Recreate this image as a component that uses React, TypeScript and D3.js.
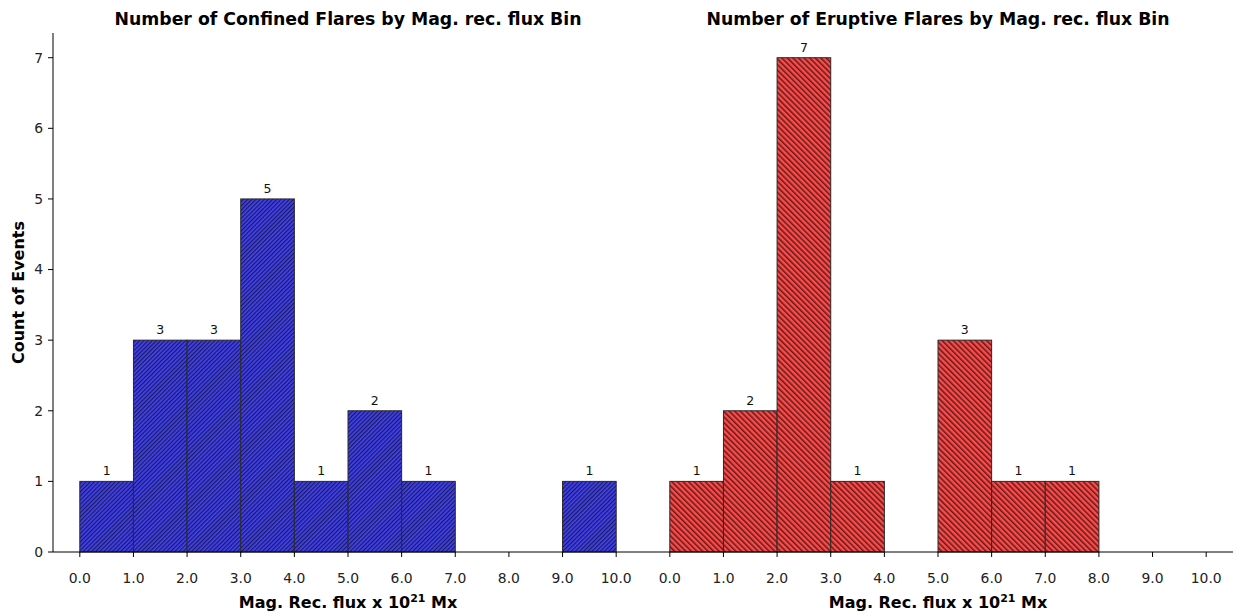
import React from "react";
import * as d3 from "d3";

// Histogram bins (lower edges, in 10^21 Mx) and event counts
const binStarts = [0, 1, 2, 3, 4, 5, 6, 7, 8, 9];
const confinedCounts = [1, 3, 3, 5, 1, 2, 1, 0, 0, 1];
const eruptiveCounts = [1, 2, 7, 1, 0, 3, 1, 1, 0, 0];
const xTicks = [0, 1, 2, 3, 4, 5, 6, 7, 8, 9, 10];
const yTicks = [0, 1, 2, 3, 4, 5, 6, 7];

const W = 1235;
const H = 613;
const FONT = "DejaVu Sans, sans-serif";

const y = d3.scaleLinear().domain([0, 7.35]).range([552, 33]);

type PanelProps = {
  x0: number;
  x1: number;
  counts: number[];
  title: string;
  fill: string;
  patternId: string;
  showY: boolean;
};

function Panel({ x0, x1, counts, title, fill, patternId, showY }: PanelProps) {
  const x = d3.scaleLinear().domain([-0.5, 10.5]).range([x0, x1]);
  const fmt = d3.format(".1f");
  const base = y(0);
  return (
    <g>
      {binStarts.map((b, i) =>
        counts[i] > 0 ? (
          <g key={b}>
            <rect x={x(b)} y={y(counts[i])} width={x(b + 1) - x(b)} height={base - y(counts[i])} fill={fill} />
            <rect
              x={x(b)}
              y={y(counts[i])}
              width={x(b + 1) - x(b)}
              height={base - y(counts[i])}
              fill={`url(#${patternId})`}
              stroke="#2a2a2a"
              strokeWidth={1}
            />
            <text
              x={(x(b) + x(b + 1)) / 2}
              y={y(counts[i]) - 6}
              textAnchor="middle"
              fontSize={12.5}
              fontFamily={FONT}
              fill="#111"
            >
              {counts[i]}
            </text>
          </g>
        ) : null
      )}
      {/* x axis */}
      <line x1={x0} x2={x1} y1={base} y2={base} stroke="#000" strokeWidth={1} />
      {xTicks.map((t) => (
        <g key={t} transform={`translate(${x(t)},${base})`}>
          <line y1={0} y2={5} stroke="#000" strokeWidth={1} />
          <text y={31} textAnchor="middle" fontSize={13.9} fontFamily={FONT} fill="#222">
            {fmt(t)}
          </text>
        </g>
      ))}
      <text
        x={(x0 + x1) / 2}
        y={608}
        textAnchor="middle"
        fontSize={16}
        fontWeight="bold"
        fontFamily={FONT}
        fill="#000"
      >
        Mag. Rec. flux x 10
        <tspan dy={-6} fontSize={11}>21</tspan>
        <tspan dy={6}> Mx</tspan>
      </text>
      <text
        x={(x0 + x1) / 2}
        y={24.5}
        textAnchor="middle"
        fontSize={17.3}
        fontWeight="bold"
        fontFamily={FONT}
        fill="#000"
      >
        {title}
      </text>
      {showY && (
        <g>
          <line x1={x0} x2={x0} y1={y(7.35)} y2={base} stroke="#000" strokeWidth={1} />
          {yTicks.map((t) => (
            <g key={t} transform={`translate(${x0},${y(t)})`}>
              <line x1={-5} x2={0} stroke="#000" strokeWidth={1} />
              <text x={-10} dy="0.35em" textAnchor="end" fontSize={13.9} fontFamily={FONT} fill="#222">
                {t}
              </text>
            </g>
          ))}
          <text
            transform={`translate(23.5,${(y(7.35) + base) / 2}) rotate(-90)`}
            textAnchor="middle"
            fontSize={16}
            fontWeight="bold"
            fontFamily={FONT}
            fill="#000"
          >
            Count of Events
          </text>
        </g>
      )}
    </g>
  );
}

export default function App() {
  const blueStep = 4.17 / Math.SQRT2;
  const redStep = 5.56 / Math.SQRT2;
  return (
    <div style={{ position: "absolute", left: 0, top: 0 }}>
      <svg width={W} height={H} style={{ display: "block", background: "#fff" }}>
        <defs>
          <pattern id="hatchBlue" patternUnits="userSpaceOnUse" width={blueStep} height={20} patternTransform="rotate(45)">
            <rect x={0} y={0} width={1.2} height={20} fill="#15154d" opacity={0.9} />
          </pattern>
          <pattern id="hatchRed" patternUnits="userSpaceOnUse" width={redStep} height={20} patternTransform="rotate(-45)">
            <rect x={0} y={0} width={1.5} height={20} fill="#4d1616" opacity={0.9} />
          </pattern>
        </defs>
        <rect width={W} height={H} fill="#fff" />
        <Panel
          x0={53}
          x1={643}
          counts={confinedCounts}
          title="Number of Confined Flares by Mag. rec. flux Bin"
          fill="#4242f2"
          patternId="hatchBlue"
          showY={true}
        />
        <Panel
          x0={643}
          x1={1233}
          counts={eruptiveCounts}
          title="Number of Eruptive Flares by Mag. rec. flux Bin"
          fill="#ff4a4a"
          patternId="hatchRed"
          showY={false}
        />
      </svg>
    </div>
  );
}
